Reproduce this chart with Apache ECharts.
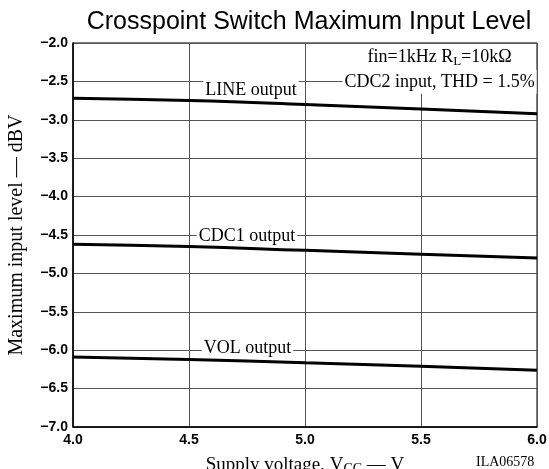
<!DOCTYPE html>
<html>
<head>
<meta charset="utf-8">
<script src="https://cdn.jsdelivr.net/npm/echarts@6/dist/echarts.min.js"></script>
<style>html,body{margin:0;padding:0;background:#fff}#c{width:549px;height:469px}</style>
</head>
<body>
<div id="c"></div>
<script>
const xValues = [4.0, 4.5, 5.0, 5.5, 6.0];
const lineOutput = [-2.72, -2.75, -2.80, -2.86, -2.92];
const cdc1Output = [-4.62, -4.65, -4.70, -4.75, -4.80];
const volOutput = [-6.09, -6.12, -6.165, -6.21, -6.26];
const curveLabels = [
  { name: 'LINE output', x: 4.767, y: -2.61 },
  { name: 'CDC1 output', x: 4.75, y: -4.513 },
  { name: 'VOL output', x: 4.752, y: -5.974 }
];
const noteLabels = [
  { text: '{a|fin=1kHz R}{s|L}{a|=10kΩ}', x: 5.58, y: -2.19 },
  { text: '{a|CDC2 input, THD = 1.5%}', x: 5.58, y: -2.505 }
];

const serif = '"Liberation Serif", "DejaVu Serif", serif';
const sans = '"Liberation Sans", Arial, sans-serif';

function pairs(ys) { return xValues.map((x, i) => [x, ys[i]]); }

const chart = echarts.init(document.getElementById('c'), null, { renderer: 'canvas' });
const curveStyle = { color: '#000', width: 3 };
chart.setOption({
  animation: false,
  backgroundColor: '#fff',
  title: {
    text: 'Crosspoint Switch Maximum Input Level',
    left: 304, top: 5, textAlign: 'center',
    textStyle: { fontFamily: sans, fontSize: 25, fontWeight: 'normal', color: '#000' }
  },
  grid: { left: 73, right: 12, top: 43, bottom: 42, show: true, borderColor: '#000', borderWidth: 1, outerBoundsMode: 'none', containLabel: false },
  xAxis: {
    type: 'value', min: 4, max: 6, interval: 0.5,
    axisLine: { show: true, lineStyle: { color: '#000', width: 1.5 } },
    axisTick: { show: false },
    splitLine: { show: true, lineStyle: { color: '#555', width: 1 } },
    axisLabel: { formatter: v => v.toFixed(1), fontFamily: sans, fontSize: 14, fontWeight: 'bold', color: '#000', margin: 6 },
    name: '{a|Supply voltage, V}{s|CC}{a| — V}',
    nameLocation: 'middle', nameGap: 27,
    nameTextStyle: {
      rich: {
        a: { fontFamily: serif, fontSize: 19, color: '#000' },
        s: { fontFamily: serif, fontSize: 14, color: '#000', padding: [8, 0, 0, 0] }
      }
    }
  },
  yAxis: {
    type: 'value', min: -7, max: -2, interval: 0.5,
    axisLine: { show: true, lineStyle: { color: '#000', width: 1.5 } },
    axisTick: { show: false },
    splitLine: { show: true, lineStyle: { color: '#555', width: 1 } },
    axisLabel: { formatter: v => v.toFixed(1).replace('-', '\u2212'), fontFamily: sans, fontSize: 14, fontWeight: 'bold', color: '#000', margin: 5 },
    name: 'Maximum input level — dBV',
    nameLocation: 'middle', nameGap: 46,
    nameTextStyle: { fontFamily: serif, fontSize: 20, color: '#000' }
  },
  series: [
    { type: 'line', data: pairs(lineOutput), smooth: true, symbol: 'none', lineStyle: curveStyle, z: 3 },
    { type: 'line', data: pairs(cdc1Output), smooth: true, symbol: 'none', lineStyle: curveStyle, z: 3 },
    { type: 'line', data: pairs(volOutput), smooth: true, symbol: 'none', lineStyle: curveStyle, z: 3 },
    {
      type: 'scatter', symbolSize: 1, itemStyle: { color: 'rgba(0,0,0,0)', opacity: 1 }, z: 5,
      data: curveLabels.map(d => ({ value: [d.x, d.y], name: d.name })),
      label: {
        show: true, position: 'inside', formatter: p => p.name,
        fontFamily: serif, fontSize: 18, color: '#000', backgroundColor: '#fff', padding: [0, 2]
      }
    },
    {
      type: 'scatter', symbolSize: 1, itemStyle: { color: 'rgba(0,0,0,0)', opacity: 1 }, z: 5,
      data: noteLabels.map(d => ({ value: [d.x, d.y], name: d.text })),
      label: {
        show: true, position: 'inside', formatter: p => p.name,
        backgroundColor: '#fff', padding: [3, 2],
        rich: {
          a: { fontFamily: serif, fontSize: 18, color: '#000' },
          s: { fontFamily: serif, fontSize: 13, color: '#000', padding: [8, 0, 0, 0] }
        }
      }
    }
  ],
  graphic: [
    { type: 'text', left: 476, top: 455, style: { text: 'ILA06578', font: '14px ' + serif, fill: '#000' } }
  ]
});
</script>
</body>
</html>
